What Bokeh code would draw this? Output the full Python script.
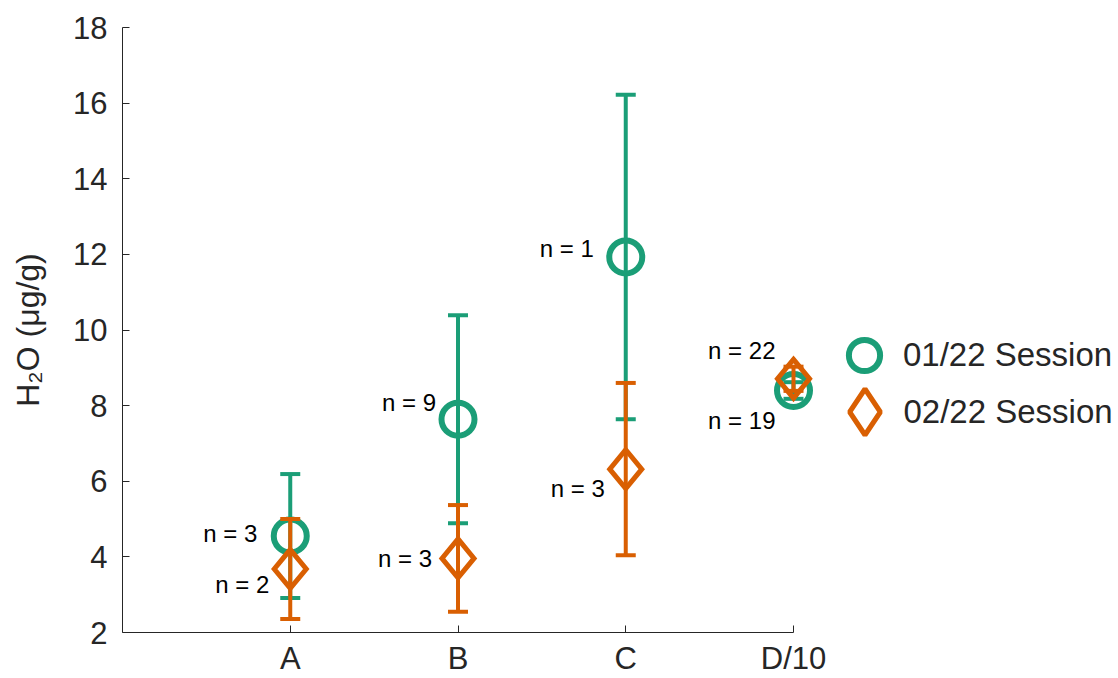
from bokeh.plotting import figure
from bokeh.models import (Range1d, FixedTicker, ColumnDataSource, Legend,
                          LegendItem, Label)
from bokeh.core.properties import value
from bokeh.embed import file_html
from bokeh.resources import INLINE

# ---- data -------------------------------------------------------------
categories = ["A", "B", "C", "D/10"]

jan_mean = [4.55, 7.64, 11.93, 8.40]   # 01/22 session, H2O (ug/g)
jan_err = [1.64, 2.75, 4.29, 0.22]
jan_n = [3, 9, 1, 19]

feb_mean = [3.68, 3.96, 6.32, 8.71]    # 02/22 session
feb_err = [1.32, 1.41, 2.28, 0.32]
feb_n = [2, 3, 3, 22]

y_ticks = [2, 4, 6, 8, 10, 12, 14, 16, 18]

session_names = ["01/22 Session", "02/22 Session"]

# ---- style ------------------------------------------------------------
GREEN = "#1b9e77"
ORANGE = "#d95f02"
INK = "#262626"
FONT = "Liberation Sans"

W, H = 1118, 678
LEFT, RIGHT, TOP, BOTTOM = 122, 0, 27, 44
AXIS_W = 671                      # pixel length of the category axis
frame_w = W - LEFT - RIGHT
frame_h = H - TOP - BOTTOM

# label offsets (pixels) for the "n = .." annotations
jan_dx = [-33, -22, -32, -18]
jan_dy = [-3, -17, -9, 30]
feb_dx = [-21, -26, -21, -18]
feb_dy = [16, 0, 19, -28]

x = [i + 1 for i in range(len(categories))]
x_lo, x_hi = 0, len(categories)
y_lo, y_hi = y_ticks[0], y_ticks[-1]

px_per_x = AXIS_W / (x_hi - x_lo)
px_per_y = frame_h / (y_hi - y_lo)
x_view_hi = x_lo + frame_w / px_per_x   # room on the right for the legend

p = figure(width=W, height=H,
           x_range=Range1d(x_lo, x_view_hi), y_range=Range1d(y_lo, y_hi),
           output_backend="svg", toolbar_location=None,
           min_border_left=LEFT, min_border_right=RIGHT,
           min_border_top=TOP, min_border_bottom=BOTTOM)
p.grid.visible = False
p.outline_line_color = None
p.background_fill_color = "white"
p.border_fill_color = "white"

for ax in (p.xaxis[0], p.yaxis[0]):
    ax.axis_line_color = INK
    ax.axis_line_width = 1
    ax.major_tick_line_color = INK
    ax.major_tick_line_width = 1
    ax.major_tick_in = 7
    ax.major_tick_out = 0
    ax.minor_tick_line_color = None
    ax.major_label_text_font = FONT
    ax.major_label_text_font_size = "31px"
    ax.major_label_text_color = INK

p.xaxis.bounds = (x_lo, x_hi)
p.xaxis.ticker = FixedTicker(ticks=x)
p.xaxis.major_label_overrides = {xi: c for xi, c in zip(x, categories)}
p.xaxis.major_label_standoff = 8

p.yaxis.ticker = FixedTicker(ticks=y_ticks)
p.yaxis.major_label_standoff = 15
p.yaxis.axis_label = "H\u2082O (\u03bcg/g)"
p.yaxis.axis_label_text_font = FONT
p.yaxis.axis_label_text_font_size = "32px"
p.yaxis.axis_label_text_font_style = "normal"
p.yaxis.axis_label_text_color = INK
p.yaxis.axis_label_standoff = 24


def session_source(mean, err, n, dx, dy):
    return ColumnDataSource(dict(
        x=x, mean=mean,
        upper=[m + e for m, e in zip(mean, err)],
        lower=[m - e for m, e in zip(mean, err)],
        label=[f"n = {k}" for k in n],
        dx=dx, dy=dy,
    ))


jan = session_source(jan_mean, jan_err, jan_n, jan_dx, jan_dy)
feb = session_source(feb_mean, feb_err, feb_n, feb_dx, feb_dy)


def error_bars(src, color):
    p.segment(x0="x", y0="lower", x1="x", y1="upper", source=src,
              line_color=color, line_width=4)
    for end in ("upper", "lower"):
        p.scatter(x="x", y=end, marker="dash", size=20, source=src,
                  line_color=color, line_width=4)


# 01/22 session: open circles
error_bars(jan, GREEN)
jan_marks = p.scatter(x="x", y="mean", marker="circle", size=33, source=jan,
                      fill_color=None, line_color=GREEN, line_width=6)

# 02/22 session: open diamonds (rhombus outlines around the means)
error_bars(feb, ORANGE)
half_w = 16 / px_per_x
half_h = 19.5 / px_per_y
dia_xs = [[xi, xi + half_w, xi, xi - half_w] for xi in x]
dia_ys = [[m + half_h, m, m - half_h, m] for m in feb_mean]
p.patches(dia_xs, dia_ys, fill_color=None, line_color=ORANGE,
          line_width=5, line_join="miter")

# sample counts
for src in (jan, feb):
    p.text(x="x", y="mean", text="label", x_offset="dx", y_offset="dy",
           source=src, text_align="right", text_baseline="middle",
           text_font=value(FONT), text_font_size="24px", text_color="black")

# legend key glyph for the diamond series
feb_key = p.scatter(x=[float("nan")], y=[float("nan")], marker="diamond",
                    size=46, fill_color=None, line_color=ORANGE, line_width=5)

# legend, right of the category axis: keys centred on key_cx,
# session names starting at text_x
key_cx = 864 - LEFT
text_x = 903 - LEFT
rows_y = [634 - 357, 634 - 413]
LEGEND_FONT = "33px"
legend_style = dict(padding=0, margin=0, spacing=0, label_standoff=0,
                    border_line_color=None, background_fill_alpha=0,
                    label_text_font=FONT, label_text_font_size=LEGEND_FONT,
                    label_text_color=INK)

# circle key with its name
box = 78
p.add_layout(Legend(items=[LegendItem(label=session_names[0], renderers=[jan_marks])],
                    location=(text_x - box, rows_y[0] - box / 2),
                    glyph_width=box, glyph_height=box, **legend_style))

# larger diamond key; its name is set as a label beside it
box = 115
p.add_layout(Legend(items=[LegendItem(label=" ", renderers=[feb_key])],
                    location=(key_cx - box / 2, rows_y[1] - box / 2),
                    glyph_width=box, glyph_height=box, **legend_style))
p.add_layout(Label(x=text_x, y=rows_y[1], x_units="screen", y_units="screen",
                   text=session_names[1], text_baseline="middle",
                   text_font=FONT, text_font_size=LEGEND_FONT, text_color=INK))

open("out.html", "w").write(file_html(p, INLINE))
